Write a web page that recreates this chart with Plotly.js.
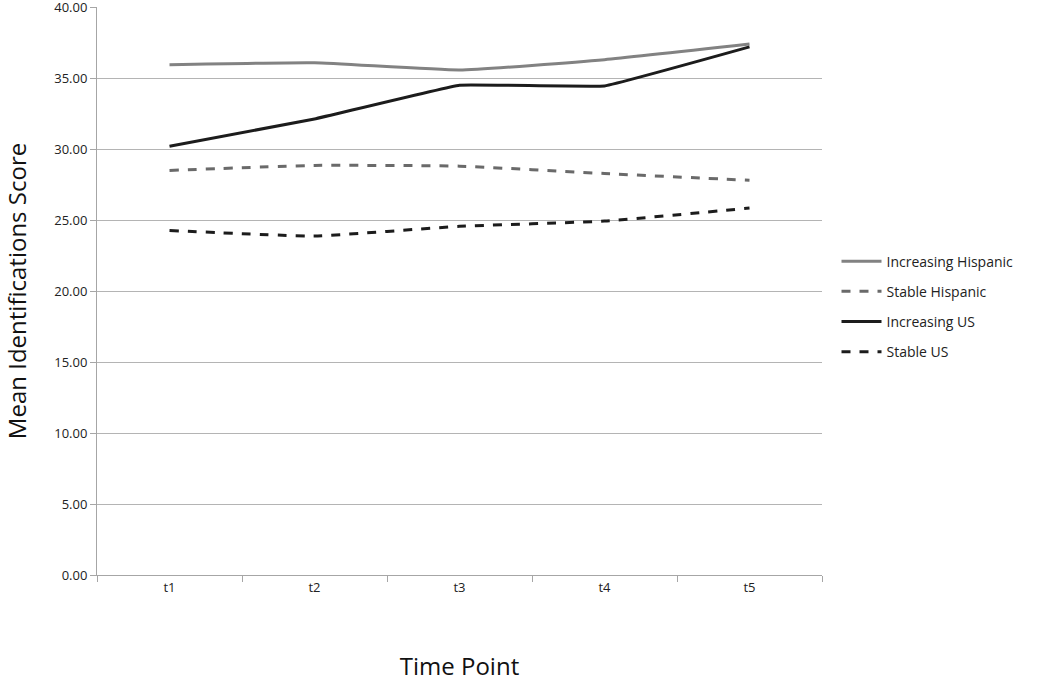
<!DOCTYPE html>
<html>
<head>
<meta charset="utf-8">
<script src="https://cdn.plot.ly/plotly-3.0.1.min.js"></script>
<style>html,body{margin:0;padding:0;background:#fff;}#chart{width:1050px;height:682px;}</style>
</head>
<body>
<div id="chart"></div>
<script>
const timePoints = ["t1", "t2", "t3", "t4", "t5"];
const increasingHispanic = [35.95, 36.08, 35.57, 36.3, 37.4];
const stableHispanic = [28.5, 28.85, 28.8, 28.28, 27.8];
const increasingUS = [30.2, 32.12, 34.5, 34.45, 37.2];
const stableUS = [24.27, 23.88, 24.56, 24.93, 25.85];

const seriesNames = ["Increasing Hispanic", "Stable Hispanic", "Increasing US", "Stable US"];

const font = "Open Sans, Liberation Sans, sans-serif";

const traces = [
  {x: timePoints, y: increasingHispanic, name: seriesNames[0], legendgroup: "a", mode: "lines",
   line: {color: "#828282", width: 3, shape: "spline", smoothing: 0.4}},
  {x: timePoints, y: stableHispanic, name: seriesNames[1], legendgroup: "b", mode: "lines",
   line: {color: "#6a6a6a", width: 3, dash: "dash", shape: "spline", smoothing: 0.4}},
  {x: timePoints, y: increasingUS, name: seriesNames[2], legendgroup: "c", mode: "lines",
   line: {color: "#1c1c1c", width: 3, shape: "spline", smoothing: 0.2}},
  {x: timePoints, y: stableUS, name: seriesNames[3], legendgroup: "d", mode: "lines",
   line: {color: "#1c1c1c", width: 3, dash: "dash", shape: "spline", smoothing: 0.4}}
];

const layout = {
  width: 1050, height: 682,
  margin: {l: 97, r: 228, t: 7, b: 107},
  paper_bgcolor: "#ffffff", plot_bgcolor: "#ffffff",
  font: {family: font, color: "#222", size: 14},
  showlegend: true,
  legend: {x: 1.02, y: 0.58, xanchor: "left", yanchor: "top",
           traceorder: "grouped",
           font: {family: font, size: 14, color: "#222"}, tracegroupgap: 9,
           itemwidth: 40, bgcolor: "rgba(0,0,0,0)"},
  xaxis: {
    type: "category", range: [-0.5, 4.5], tickson: "boundaries",
    ticks: "outside", ticklen: 6, tickcolor: "#a6a6a6",
    showline: true, linecolor: "#a6a6a6", linewidth: 1,
    showgrid: false, zeroline: false,
    tickfont: {family: font, size: 13, color: "#222"},
    title: {text: "Time Point", font: {family: font, size: 24, color: "#111"}, standoff: 68}
  },
  yaxis: {
    range: [0, 40.01], tickvals: [0, 5, 10, 15, 20, 25, 30, 35, 40], tickformat: ".2f",
    ticklabeloverflow: "allow",
    ticks: "outside", ticklen: 6, tickcolor: "#a6a6a6",
    showline: true, linecolor: "#a6a6a6", linewidth: 1,
    showgrid: true, gridcolor: "#b4b4b4", gridwidth: 1, zeroline: false,
    tickfont: {family: font, size: 13, color: "#222"},
    title: {text: "Mean Identifications Score", font: {family: font, size: 24, color: "#111"}, standoff: 22}
  }
};

Plotly.newPlot("chart", traces, layout, {displayModeBar: false, staticPlot: true});
</script>
</body>
</html>
